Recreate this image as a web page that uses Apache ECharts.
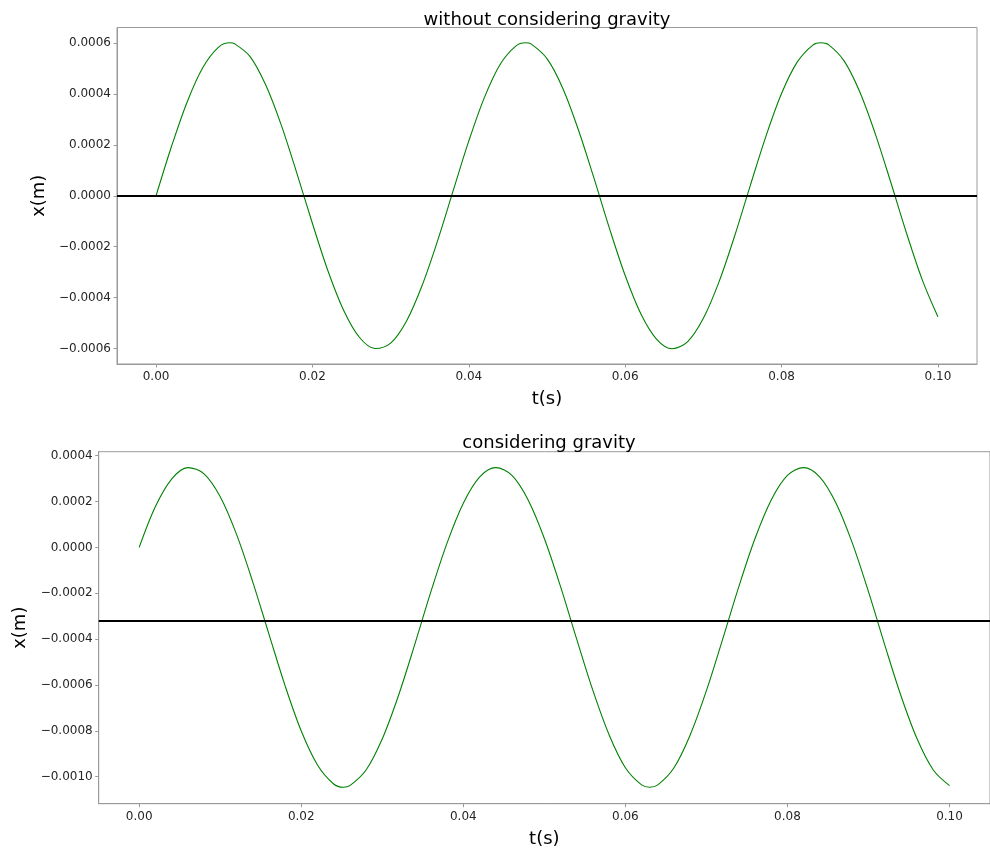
<!DOCTYPE html>
<html>
<head>
<meta charset="utf-8">
<title>Oscillation with and without gravity</title>
<script src="https://cdn.jsdelivr.net/npm/echarts@6.0.0/dist/echarts.min.js"></script>
<style>
  html, body { margin: 0; padding: 0; background: #ffffff; }
  #chart { width: 990px; height: 854px; }
</style>
</head>
<body>
<div id="chart"></div>
<script>
// ---------- data ----------
const titles = ["without considering gravity", "considering gravity"];
const xAxisName = "t(s)";
const yAxisName = "x(m)";

// sample times (s), top panel (extra samples at the crests)
const timesTop = [
  0.000, 0.002, 0.004, 0.006, 0.008, 0.00945, 0.010, 0.012, 0.014, 0.016, 0.018,
  0.020, 0.022, 0.024, 0.026, 0.028, 0.030, 0.032, 0.034, 0.036, 0.038,
  0.040, 0.042, 0.044, 0.046, 0.04725, 0.048, 0.050, 0.052, 0.054, 0.056, 0.058,
  0.060, 0.062, 0.064, 0.066, 0.068, 0.070, 0.072, 0.074, 0.076, 0.078,
  0.080, 0.082, 0.084, 0.08505, 0.086, 0.088, 0.090, 0.092, 0.094, 0.096, 0.098,
  0.100
];

// displacement without gravity (m)
const xNoGravity = [
  0.000000, 0.000196, 0.000370, 0.000504, 0.000583, 0.000600, 0.000597, 0.000547, 0.000436, 0.000278, 0.000089,
  -0.000109, -0.000296, -0.000450, -0.000555, -0.000599, -0.000578, -0.000493, -0.000354, -0.000177, 0.000020,
  0.000215, 0.000386, 0.000515, 0.000587, 0.000600, 0.000595, 0.000538, 0.000423, 0.000260, 0.000070, -0.000129,
  -0.000313, -0.000463, -0.000562, -0.000600, -0.000572, -0.000481, -0.000338, -0.000158, 0.000040, 0.000233,
  0.000401, 0.000524, 0.000591, 0.000600, 0.000593, 0.000529, 0.000408, 0.000242, 0.000050, -0.000148, -0.000330,
  -0.000475
];

// sample times (s), bottom panel (extra samples at the troughs)
const timesBottom = [
  0.000, 0.002, 0.004, 0.006, 0.008, 0.010, 0.012, 0.014, 0.016, 0.018,
  0.020, 0.022, 0.024, 0.0252, 0.026, 0.028, 0.030, 0.032, 0.034, 0.036, 0.038,
  0.040, 0.042, 0.044, 0.046, 0.048, 0.050, 0.052, 0.054, 0.056, 0.058,
  0.060, 0.062, 0.063, 0.064, 0.066, 0.068, 0.070, 0.072, 0.074, 0.076, 0.078,
  0.080, 0.082, 0.084, 0.086, 0.088, 0.090, 0.092, 0.094, 0.096, 0.098,
  0.100
];

// displacement with gravity (m)
const xGravity = [
  0.000000, 0.000178, 0.000298, 0.000348, 0.000321, 0.000221, 0.000058, -0.000149, -0.000377, -0.000603,
  -0.000801, -0.000949, -0.001032, -0.001046, -0.001039, -0.000971, -0.000835, -0.000646, -0.000424, -0.000193, 0.000020,
  0.000193, 0.000307, 0.000348, 0.000314, 0.000207, 0.000039, -0.000171, -0.000401, -0.000625, -0.000818,
  -0.000961, -0.001036, -0.001046, -0.001036, -0.000961, -0.000818, -0.000625, -0.000401, -0.000171, 0.000039, 0.000207,
  0.000314, 0.000348, 0.000307, 0.000193, 0.000020, -0.000193, -0.000424, -0.000646, -0.000835, -0.000971,
  -0.001039
];

// horizontal reference (equilibrium) lines (m)
const refLines = [0.0, -0.000322];

// tick values
const xTicks = [0.00, 0.02, 0.04, 0.06, 0.08, 0.10];
const yTicksTop = [-0.0006, -0.0004, -0.0002, 0.0000, 0.0002, 0.0004, 0.0006];
const yTicksBottom = [-0.0010, -0.0008, -0.0006, -0.0004, -0.0002, 0.0000, 0.0002, 0.0004];

// axis limits
const xLimits = [-0.005, 0.105];
const yLimitsTop = [-0.00066, 0.00066];
const yLimitsBottom = [-0.001118, 0.0004175];

// ---------- chart ----------
const FONT = "DejaVu Sans";
const SPINE = "#9a9a9a";
const LABEL = "#262626";

function fmtY(v) { return (v < 0 ? "\u2212" : "") + Math.abs(v).toFixed(4); }
function fmtX(v) { return (v < 0 ? "\u2212" : "") + Math.abs(v).toFixed(2); }

function makeX(gridIndex, ticks, lim, gap) {
  return {
    type: "value", gridIndex: gridIndex, min: lim[0], max: lim[1],
    name: xAxisName, nameLocation: "middle", nameGap: gap,
    nameTextStyle: { fontFamily: FONT, fontSize: 18, color: "#000" },
    axisLine: { show: true, onZero: false, lineStyle: { color: SPINE, width: 1 } },
    axisTick: { show: true, inside: false, length: 3.5, customValues: ticks, lineStyle: { color: SPINE, width: 1 } },
    axisLabel: { show: true, customValues: ticks, formatter: fmtX, margin: 7,
                 fontFamily: FONT, fontSize: 12, color: LABEL },
    splitLine: { show: false }
  };
}
function makeY(gridIndex, ticks, lim, gap) {
  return {
    type: "value", gridIndex: gridIndex, min: lim[0], max: lim[1],
    name: yAxisName, nameLocation: "middle", nameGap: gap,
    nameTextStyle: { fontFamily: FONT, fontSize: 18, color: "#000" },
    axisLine: { show: true, onZero: false, lineStyle: { color: SPINE, width: 1 } },
    axisTick: { show: true, inside: false, length: 3.5, customValues: ticks, lineStyle: { color: SPINE, width: 1 } },
    axisLabel: { show: true, customValues: ticks, formatter: fmtY, margin: 6,
                 fontFamily: FONT, fontSize: 12, color: LABEL },
    splitLine: { show: false }
  };
}
function makeSeries(idx, ts, ys, ref) {
  return {
    type: "line", xAxisIndex: idx, yAxisIndex: idx,
    data: ts.map((t, i) => [t, ys[i]]),
    smooth: 0.33, showSymbol: false, symbol: "none",
    lineStyle: { color: "#008000", width: 1.1 },
    itemStyle: { color: "#008000" },
    z: 3,
    markLine: {
      silent: true, symbol: ["none", "none"], animation: false, precision: 8,
      label: { show: false },
      lineStyle: { color: "#000", width: 2, type: "solid" },
      data: [{ yAxis: ref }],
      z: 4
    }
  };
}

const chart = echarts.init(document.getElementById("chart"), null, { renderer: "canvas" });
chart.setOption({
  backgroundColor: "#ffffff",
  animation: false,
  title: [
    { text: titles[0], left: 547, top: 11, textAlign: "center", padding: 0,
      textStyle: { fontFamily: FONT, fontSize: 18, fontWeight: "normal", color: "#000" } },
    { text: titles[1], left: 549, top: 434, textAlign: "center", padding: 0,
      textStyle: { fontFamily: FONT, fontSize: 18, fontWeight: "normal", color: "#000" } }
  ],
  grid: [
    { left: 117, top: 27.5, width: 860, height: 336.5, show: true, borderColor: SPINE, borderWidth: 1, backgroundColor: "transparent", containLabel: false },
    { left: 98.7, top: 451.7, width: 901, height: 352, show: true, borderColor: SPINE, borderWidth: 1, backgroundColor: "transparent", containLabel: false }
  ],
  xAxis: [ makeX(0, xTicks, xLimits, 26), makeX(1, xTicks, xLimits, 27) ],
  yAxis: [ makeY(0, yTicksTop, yLimitsTop, 56), makeY(1, yTicksBottom, yLimitsBottom, 66) ],
  series: [ makeSeries(0, timesTop, xNoGravity, refLines[0]), makeSeries(1, timesBottom, xGravity, refLines[1]) ]
});
</script>
</body>
</html>
